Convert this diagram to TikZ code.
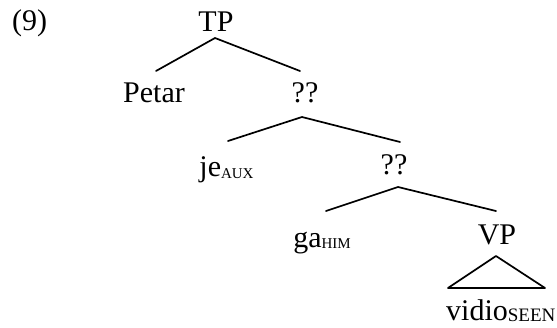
\documentclass[tikz,border=0pt]{standalone}
\usepackage{fontspec}
\setmainfont{Liberation Serif}
\newcommand{\mysub}[1]{\raisebox{-1.5pt}{\fontsize{15}{15}\selectfont #1}}
\newcommand{\mysubb}[1]{\raisebox{-1.5pt}{\fontsize{19}{19}\selectfont #1}}
\begin{document}
\begin{tikzpicture}[x=1pt,y=1pt,
  lbl/.style={inner sep=0pt, anchor=base, font=\fontsize{30}{30}\selectfont},
  branch/.style={line width=1.7pt, line cap=round, line join=round}]
\useasboundingbox (0,0) rectangle (557,327);
\node[lbl, anchor=base west] (ex) at (12,296) {(9)};
\node[lbl] (TP) at (216,295) {TP};
\node[lbl] (Petar) at (154,224) {Petar};
\node[lbl] (Q1) at (305,224) {??};
\node[lbl] (je) at (226.5,150) {je\mysub{AUX}};
\node[lbl] (Q2) at (394,152) {??};
\node[lbl] (ga) at (322,80) {ga\mysub{HIM}};
\node[lbl] (VP) at (497,82) {VP};
\node[lbl, anchor=base west] (vidio) at (446,7) {vidio\mysubb{SEEN}};
\draw[branch] ([shift={(-5,32)}]Q1.base) -- ([shift={(-1,-6)}]TP.base) -- ([shift={(2,32)}]Petar.base);
\draw[branch] ([shift={(1.5,36)}]je.base) -- ([shift={(-3,-14)}]Q1.base) -- ([shift={(6,33)}]Q2.base);
\draw[branch] ([shift={(4,36)}]ga.base) -- ([shift={(4,-12)}]Q2.base) -- ([shift={(-1,34)}]VP.base);
\draw[branch] ([shift={(-1,-11)}]VP.base) -- ([shift={(-49,-43)}]VP.base) -- ([shift={(48,-43)}]VP.base) -- cycle;
\end{tikzpicture}
\end{document}
